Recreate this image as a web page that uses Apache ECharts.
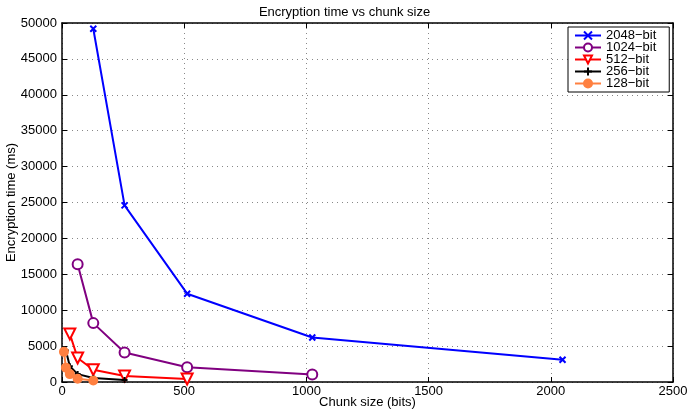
<!DOCTYPE html>
<html><head><meta charset="utf-8">
<script src="https://cdn.jsdelivr.net/npm/echarts@6/dist/echarts.min.js"></script>
<style>html,body{margin:0;padding:0;background:#fff}#c{width:689px;height:411px}</style>
</head><body><div id="c"></div>
<script>
const seriesNames = ['2048\u2212bit','1024\u2212bit','512\u2212bit','256\u2212bit','128\u2212bit'];
const chunk2048 = [128, 256, 512, 1024, 2048];
const time2048 = [49200, 24600, 12300, 6200, 3100];
const chunk1024 = [64, 128, 256, 512, 1024];
const time1024 = [16400, 8200, 4100, 2050, 1050];
const chunk512 = [32, 64, 128, 256, 512];
const time512 = [6700, 3350, 1700, 850, 420];
const chunk256 = [16, 32, 64, 128, 256];
const time256 = [4400, 2200, 1100, 550, 280];
const chunk128 = [8, 16, 32, 64, 128];
const time128 = [4200, 2000, 1100, 450, 200];
const xTicks = [0, 500, 1000, 1500, 2000, 2500];
const yTicks = [0, 5000, 10000, 15000, 20000, 25000, 30000, 35000, 40000, 45000, 50000];

const pair = (xs, ys) => xs.map((x, i) => [x, ys[i]]);
const font = 'Liberation Sans, Arial, sans-serif';
const chart = echarts.init(document.getElementById('c'));
const crossPath = 'path://M0,0L10,10M10,0L0,10';
const plusPath = 'path://M5,0L5,10M0,5L10,5';
function mk(name, data, color, symbol, size, extra) {
  return Object.assign({
    name, type: 'line', data, symbol, symbolSize: size, showAllSymbol: true,
    lineStyle: { color, width: 2 },
    itemStyle: { color, borderColor: color, borderWidth: 2 },
    emphasis: { disabled: true }, animation: false, z: 3
  }, extra || {});
}
const axisCommon = {
  type: 'value',
  axisLine: { show: true, onZero: false, lineStyle: { color: '#000', width: 1.5 } },
  axisTick: { show: true, inside: true, length: 5, lineStyle: { color: '#000' } },
};
chart.setOption({
  animation: false,
  title: { text: 'Encryption time vs chunk size', left: 'center', top: 1,
    textStyle: { fontFamily: font, fontSize: 13, fontWeight: 'normal', color: '#000' } },
  grid: { left: 62, right: 16, top: 23, bottom: 29, show: false, containLabel: false, outerBoundsMode: 'none' },
  legend: {
    orient: 'vertical', left: 568, top: 27, itemGap: -1, itemWidth: 26, itemHeight: 10,
    padding: [2, 13, 2, 6],
    borderColor: '#000', borderWidth: 1, backgroundColor: '#fff',
    textStyle: { fontFamily: font, fontSize: 13, color: '#000', lineHeight: 12 },
    data: seriesNames
  },
  xAxis: [
    Object.assign({}, axisCommon, {
      min: 0, max: 2500, interval: 500, position: 'bottom',
      name: 'Chunk size (bits)', nameLocation: 'middle', nameGap: 14, nameMoveOverlap: false,
      nameTextStyle: { fontFamily: font, fontSize: 13, color: '#000' },
      axisLabel: { fontFamily: font, fontSize: 13, color: '#000', margin: 3,
        formatter: v => xTicks.includes(v) ? String(v) : '' },
      splitLine: { show: true, lineStyle: { color: '#888', type: [1, 4], width: 1 } }
    }),
    Object.assign({}, axisCommon, {
      min: 0, max: 2500, interval: 500, position: 'top',
      axisLabel: { show: false }, splitLine: { show: false }
    })
  ],
  yAxis: [
    Object.assign({}, axisCommon, {
      min: 0, max: 50000, interval: 5000, position: 'left',
      name: 'Encryption time (ms)', nameLocation: 'middle', nameGap: 44, nameRotate: 90, nameMoveOverlap: false,
      nameTextStyle: { fontFamily: font, fontSize: 13, color: '#000' },
      axisLabel: { fontFamily: font, fontSize: 13, color: '#000', margin: 5,
        formatter: v => yTicks.includes(v) ? String(v) : '' },
      splitLine: { show: true, lineStyle: { color: '#888', type: [1, 4], width: 1 } }
    }),
    Object.assign({}, axisCommon, {
      min: 0, max: 50000, interval: 5000, position: 'right',
      axisLabel: { show: false }, splitLine: { show: false }
    })
  ],
  series: [
    mk(seriesNames[0], pair(chunk2048, time2048), '#0000ff', crossPath, 6),
    mk(seriesNames[1], pair(chunk1024, time1024), '#800080', 'emptyCircle', 10),
    mk(seriesNames[2], pair(chunk512, time512), '#ff0000', 'emptyTriangle', 11, { symbolRotate: 180 }),
    mk(seriesNames[3], pair(chunk256, time256), '#000000', plusPath, 6),
    mk(seriesNames[4], pair(chunk128, time128), '#ff8040', 'circle', 8)
  ]
});
</script></body></html>
